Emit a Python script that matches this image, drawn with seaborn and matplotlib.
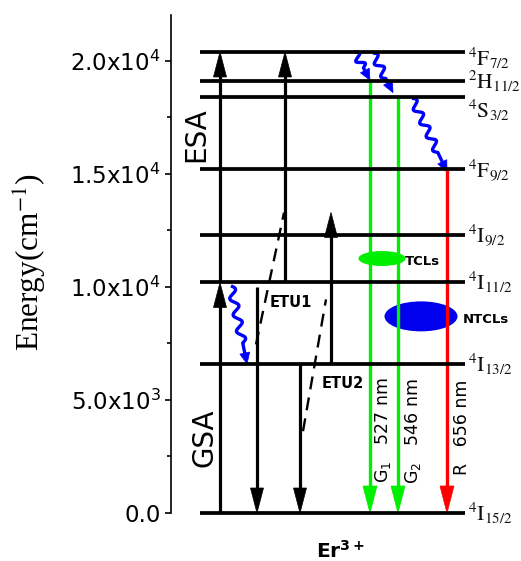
import numpy as np
import pandas as pd
import matplotlib
matplotlib.use("Agg")
import matplotlib.pyplot as plt
import seaborn as sns
from matplotlib.patches import Ellipse, Polygon
from matplotlib.ticker import FixedLocator, MultipleLocator, FixedFormatter

# ---------------- data ----------------
level_names = [r"$^{4}\mathrm{I}_{15/2}$", r"$^{4}\mathrm{I}_{13/2}$", r"$^{4}\mathrm{I}_{11/2}$",
               r"$^{4}\mathrm{I}_{9/2}$", r"$^{4}\mathrm{F}_{9/2}$", r"$^{4}\mathrm{S}_{3/2}$",
               r"$^{2}\mathrm{H}_{11/2}$", r"$^{4}\mathrm{F}_{7/2}$"]
level_energy = [0, 6600, 10200, 12300, 15200, 18400, 19100, 20400]

y_ticks = [0, 5000, 10000, 15000, 20000]
y_tick_labels = ["0.0", r"5.0x10$^{3}$", r"1.0x10$^{4}$", r"1.5x10$^{4}$", r"2.0x10$^{4}$"]

# absorption (GSA / ESA / ETU) upward arrows: start and end energy
up_from = [0, 10200, 10200, 6600]
up_to = [10200, 20400, 20400, 13300]
# energy-transfer downward arrows
down_from = [10000, 6600]
down_to = [0, 0]
# energy transfer (dashed)
etu_names = ["ETU1", "ETU2"]
etu_from = [7460, 3620]
etu_to = [13290, 9450]
# non-radiative relaxations (wavy)
nr_from = [10050, 20400, 20350, 18350]
nr_to = [6600, 19150, 18600, 15100]
# emissions
em_names = [r"G$_{1}$   527 nm", r"G$_{2}$   546 nm", r"R   656 nm"]
em_from = [19100, 18400, 15200]
em_to = [0, 0, 0]
em_colors = ["#00ee00", "#00ee00", "#ff0000"]

# ---------------- style ----------------
sns.set_theme(style="ticks")
plt.rcParams["font.family"] = ["DejaVu Sans"]
plt.rcParams["mathtext.fontset"] = "dejavusans"
plt.rcParams["text.color"] = "black"
plt.rcParams["axes.labelcolor"] = "black"
plt.rcParams["ytick.color"] = "black"
plt.rcParams["ytick.labelcolor"] = "black"

fig = plt.figure(figsize=(5.21, 5.61), dpi=100)
W, H = 521, 561
ax = fig.add_axes([171 / W, (H - 513) / H, (W - 171) / W, (513 - 15) / H])
ax.set_xlim(171, 521)
ax.set_ylim(0, 22035)

for s in ["top", "right", "bottom"]:
    ax.spines[s].set_visible(False)
ax.spines["left"].set_linewidth(1.2)
ax.spines["left"].set_color("black")
ax.set_xticks([])
ax.yaxis.set_major_locator(FixedLocator(y_ticks))
ax.yaxis.set_major_formatter(FixedFormatter(y_tick_labels))
ax.yaxis.set_minor_locator(MultipleLocator(2500))
ax.tick_params(axis="y", which="major", length=4.5, width=1.2, labelsize=16.5, pad=3,
               color="black", labelcolor="black")
ax.tick_params(axis="y", which="minor", length=3, width=1.2, color="black")
ax.set_ylabel("")
ax.set_xlabel("")

T = ax.transData


def to_data(pts):
    return T.inverted().transform(pts)


def straight_arrow(x, e0, e1, color="black", lw=2.3, head_len=25, head_w=13, z=3):
    p0 = T.transform((x, e0))
    p1 = T.transform((x, e1))
    d = p1 - p0
    L = np.hypot(*d)
    u = d / L
    n = np.array([-u[1], u[0]])
    base = p0 + u * (L - head_len + 2)
    line = to_data(np.array([p0, base]))
    ax.plot(line[:, 0], line[:, 1], color=color, lw=lw, solid_capstyle="butt", zorder=z, clip_on=False)
    b2 = p0 + u * (L - head_len)
    tri = np.array([p1, b2 + n * head_w / 2, b2 - n * head_w / 2])
    ax.add_patch(Polygon(to_data(tri), closed=True, facecolor=color, edgecolor=color, lw=0.5, zorder=z, clip_on=False))


def wavy_arrow(x0, e0, x1, e1, n_waves, amp=3.8, color="#0000ff", lw=2.4, head_len=11, head_w=10, z=4):
    p0 = T.transform((x0, e0))
    p1 = T.transform((x1, e1))
    d = p1 - p0
    L = np.hypot(*d)
    u = d / L
    n = np.array([-u[1], u[0]])
    body = L - head_len
    t = np.linspace(0, body, 300)
    wave = amp * np.sin(2 * np.pi * n_waves * t / (body * 0.85))
    wave[t > body * 0.85] = 0
    pts = p0 + np.outer(t, u) + np.outer(wave, n)
    dd = to_data(pts)
    ax.plot(dd[:, 0], dd[:, 1], color=color, lw=lw, solid_capstyle="butt", zorder=z)
    base = p0 + u * body
    tri = np.array([p1, base + n * head_w / 2, base - n * head_w / 2])
    ax.add_patch(Polygon(to_data(tri), closed=True, facecolor=color, edgecolor=color, lw=0.5, zorder=z))


# ---------------- ellipses (TCLs / NTCLs) ----------------
px = (T.transform((0, 1000))[1] - T.transform((0, 0))[1]) / 1000.0  # pixels per energy unit
ax.add_patch(Ellipse((382, 11260), 47, 15 / px, facecolor="#00ee00", edgecolor="none", zorder=1))
ax.add_patch(Ellipse((421, 8700), 73, 30 / px, facecolor="#0000ee", edgecolor="none", zorder=1))
ax.text(405, 11120, "TCLs", fontsize=9.5, fontweight="bold", ha="left", va="center", zorder=6)
ax.text(463, 8560, "NTCLs", fontsize=9.5, fontweight="bold", ha="left", va="center", zorder=6)

# ---------------- energy levels (seaborn) ----------------
lev_df = pd.DataFrame({
    "x": np.tile([200, 465], len(level_energy)),
    "energy": np.repeat(level_energy, 2),
    "level": np.repeat(np.arange(len(level_energy)), 2),
})
sns.lineplot(data=lev_df, x="x", y="energy", units="level", estimator=None, sort=False,
             color="black", lw=2.7, ax=ax, legend=False, zorder=5)
for ln in ax.lines:
    ln.set_clip_on(False)
    ln.set_solid_capstyle("butt")
ax.set_xlabel("")
ax.set_ylabel("")

label_offsets_px = [0, 0, 0, 0, 1, 13, 0, 6]
for name, e, off in zip(level_names, level_energy, label_offsets_px):
    ax.text(468, e - off / px, name, fontsize=15.5, ha="left", va="center",
            family=["Liberation Serif"], math_fontfamily="stix", color="#111111", clip_on=False)

# ---------------- absorption arrows ----------------
up_x = [220, 220, 285, 331]
for x, a, b in zip(up_x, up_from, up_to):
    straight_arrow(x, a, b)

down_x = [257, 300]
for x, a, b in zip(down_x, down_from, down_to):
    straight_arrow(x, a, b)

etu_x0 = [256, 303]
etu_x1 = [284, 326]
for x0, x1, a, b in zip(etu_x0, etu_x1, etu_from, etu_to):
    ax.plot([x0, x1], [a, b], color="black", lw=1.7, ls=(0, (5.5, 3.5)), zorder=3)
ax.text(270, (513 - 303) / px, etu_names[0], fontsize=10.5, fontweight="bold", ha="left", va="center")
ax.text(322, (513 - 383) / px, etu_names[1], fontsize=10.5, fontweight="bold", ha="left", va="center")

# ---------------- non-radiative relaxations ----------------
nr_x0 = [231, 355, 373, 412]
nr_x1 = [247, 370, 393, 447]
nr_waves = [3.5, 1.5, 2.0, 4.0]
for x0, x1, a, b, nw in zip(nr_x0, nr_x1, nr_from, nr_to, nr_waves):
    wavy_arrow(x0, a, x1, b, nw)

# ---------------- emissions ----------------
em_x = [370, 398, 447]
em_text_x = [383, 413, 462]
em_text_y = [(513 - 430) / px, (513 - 431) / px, (513 - 427) / px]
for x, a, b, c, nm, tx, ty in zip(em_x, em_from, em_to, em_colors, em_names, em_text_x, em_text_y):
    straight_arrow(x, a, b, color=c, lw=2.4, head_len=27, head_w=14, z=4)
    ax.text(tx, ty, nm, rotation=90, fontsize=12.5, ha="center", va="center", zorder=6)

# ---------------- ESA / GSA ----------------
ax.text(196, (513 - 135) / px, "ESA", rotation=90, fontsize=20, ha="center", va="center")
ax.text(204, (513 - 438) / px, "GSA", rotation=90, fontsize=20, ha="center", va="center")

# ---------------- axis titles ----------------
fig.text(30 / W, 1 - 262 / H, r"Energy(cm$^{-1}$)", rotation=90, fontsize=22.5,
         family=["Liberation Serif"], math_fontfamily="stix", ha="center", va="center")
fig.text(340 / W, 1 - 551 / H, r"Er$^{\mathbf{3+}}$", fontsize=14.5, fontweight="bold",
         ha="center", va="center")

fig.savefig("out.png", dpi=100)
